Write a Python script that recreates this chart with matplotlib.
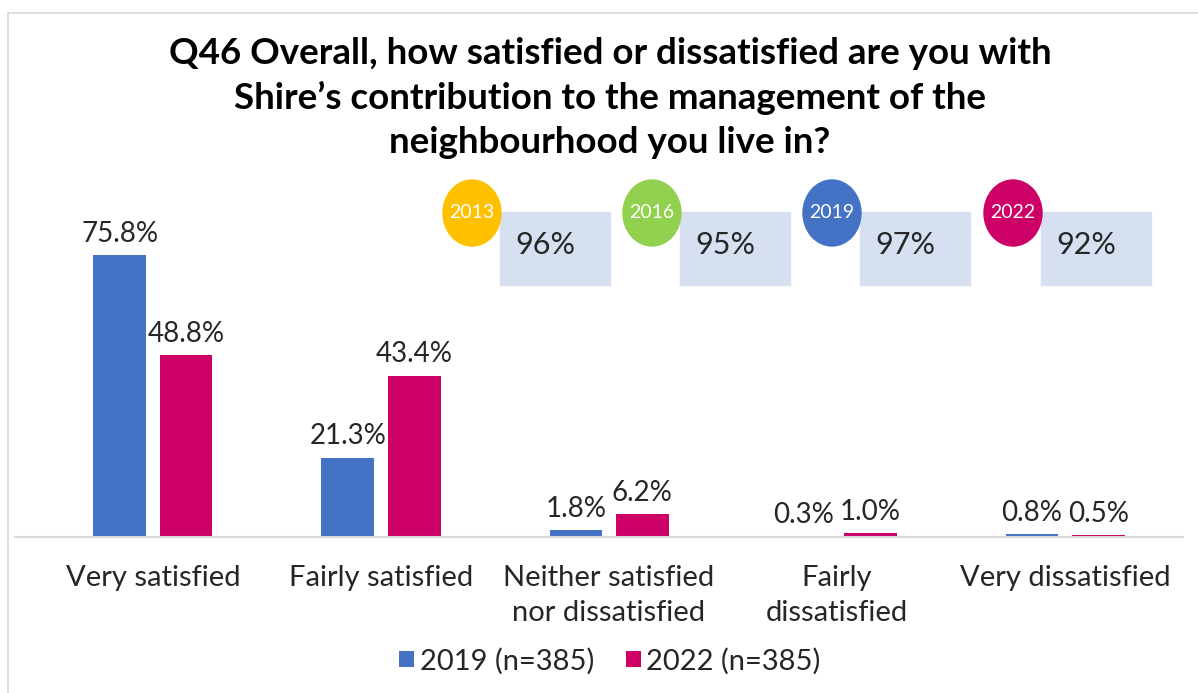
import matplotlib
matplotlib.use("Agg")
import matplotlib.pyplot as plt
from matplotlib.patches import Ellipse, Rectangle
import numpy as np

categories = ["Very satisfied", "Fairly satisfied", "Neither satisfied\nnor dissatisfied",
              "Fairly\ndissatisfied", "Very dissatisfied"]
vals_2019 = [75.8, 21.3, 1.8, 0.3, 0.8]
vals_2022 = [48.8, 43.4, 6.2, 1.0, 0.5]
series_names = ["2019 (n=385)", "2022 (n=385)"]
summary_years = ["2013", "2016", "2019", "2022"]
summary_vals = ["96%", "95%", "97%", "92%"]
summary_colors = ["#FFC000", "#92D050", "#4472C4", "#CC0066"]

plt.rcParams['font.family'] = ['Lato', 'DejaVu Sans']
W, H = 1198, 693
fig = plt.figure(figsize=(W/100, H/100), dpi=100)

def fx(px): return px / W
def fy(py): return 1 - py / H

# frame
fig.add_artist(plt.Line2D([fx(8), 1], [fy(13), fy(13)], color="#D9D9D9", lw=1.2, transform=fig.transFigure))
fig.add_artist(plt.Line2D([fx(8), fx(8)], [fy(13), 0], color="#D9D9D9", lw=1.2, transform=fig.transFigure))

ax = fig.add_axes([fx(15), fy(537), fx(1183) - fx(15), fy(200) - fy(537)])
x = np.arange(len(categories))
bw = 0.232
b1 = ax.bar(x - 0.145, vals_2019, bw, color="#4472C4", label=series_names[0])
b2 = ax.bar(x + 0.145, vals_2022, bw, color="#CC0066", label=series_names[1])
ax.set_xlim(-0.605, 4.517)
ax.set_ylim(0, 337 / 3.72)
for bars, vals in ((b1, vals_2019), (b2, vals_2022)):
    for rect, v in zip(bars, vals):
        ax.annotate(f"{v:.1f}%", (rect.get_x() + rect.get_width()/2, v),
                    xytext=(0, 6), textcoords="offset points", ha="center", va="bottom",
                    fontsize=20, color="#262626")
for s in ["top", "right", "left"]:
    ax.spines[s].set_visible(False)
ax.spines["bottom"].set_color("#D9D9D9")
ax.spines["bottom"].set_linewidth(1.5)
ax.set_yticks([])
ax.set_xticks(x)
ax.set_xticklabels(categories, fontsize=21, color="#262626", linespacing=1.45, va="top")
ax.tick_params(axis="x", length=0, pad=20)
ax.patch.set_visible(False)

leg = fig.legend(handles=[b1, b2], loc="center", bbox_to_anchor=(fx(610), fy(661)), ncol=2,
                 frameon=False, fontsize=21, handlelength=0.5, handleheight=0.5,
                 handletextpad=0.2, columnspacing=1.1, labelcolor="#262626")

fig.text(fx(610), fy(98), "Q46 Overall, how satisfied or dissatisfied are you with\n"
         "Shire\u2019s contribution to the management of the\nneighbourhood you live in?",
         ha="center", va="center", fontsize=26.5, fontweight="bold", color="#000000", linespacing=1.4)

# summary badges
circle_cx = [472, 652, 832, 1013]
for cx, yr, val, col in zip(circle_cx, summary_years, summary_vals, summary_colors):
    fig.add_artist(Rectangle((fx(cx + 28), fy(285)), fx(110), fy(212) - fy(285),
                             transform=fig.transFigure, color="#D6E0F1", zorder=1))
    fig.add_artist(Ellipse((fx(cx), fy(213)), fx(58), fy(180) - fy(246),
                           transform=fig.transFigure, color=col, zorder=2))
    fig.text(fx(cx), fy(213), yr, ha="center", va="center", fontsize=14, color="white", zorder=3)
    fig.text(fx(cx + 73), fy(245), val, ha="center", va="center", fontsize=22, color="#262626", zorder=3)

fig.savefig("out.png", dpi=100)
